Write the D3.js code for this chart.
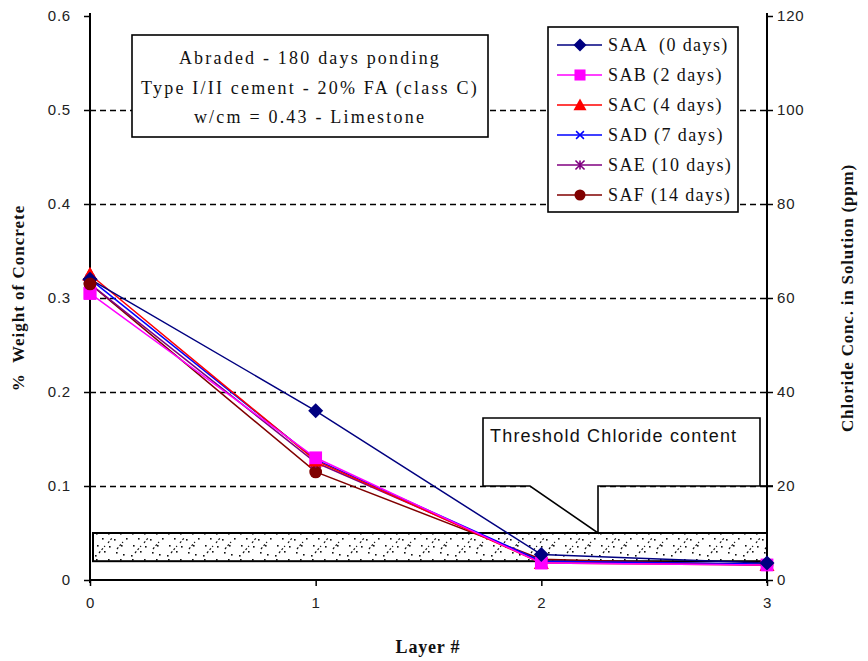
<!DOCTYPE html>
<html><head><meta charset="utf-8">
<script src="https://cdn.jsdelivr.net/npm/d3@7/dist/d3.min.js"></script>
<style>body{margin:0;background:#fff}svg{display:block}</style>
</head><body>
<script>
const layers = [0, 1, 2, 3];
const seriesNames = ["SAA  (0 days)", "SAB (2 days)", "SAC (4 days)", "SAD (7 days)", "SAE (10 days)", "SAF (14 days)"];
const SAA = [0.32, 0.18, 0.027, 0.018];
const SAB = [0.305, 0.13, 0.018, 0.016];
const SAC = [0.325, 0.127, 0.018, 0.016];
const SAD = [0.32, 0.128, 0.02, 0.017];
const SAE = [0.315, 0.125, 0.02, 0.016];
const SAF = [0.315, 0.115, 0.022, 0.016];
const leftTicks = [0, 0.1, 0.2, 0.3, 0.4, 0.5, 0.6];
const rightTicks = [0, 20, 40, 60, 80, 100, 120];
const gridValues = [0.1, 0.2, 0.3, 0.4, 0.5];
const thresholdBand = [0.02, 0.05];
const infoLines = ["Abraded - 180 days ponding", "Type I/II cement - 20% FA (class C)", "w/cm = 0.43 - Limestone"];

const colors = ["#000080", "#FF00FF", "#FF0000", "#0000FF", "#800080", "#800000"];
const markers = ["diamond", "square", "triangle", "x", "star", "circle"];
const allSeries = [SAA, SAB, SAC, SAD, SAE, SAF];

const W = 868, H = 661;
const m = {l: 90, r: 767, t: 16, b: 580};
const svg = d3.select("body").append("svg").attr("width", W).attr("height", H);

const x = d3.scaleLinear().domain([0, 3]).range([m.l, m.r]);
const y = d3.scaleLinear().domain([0, 0.6]).range([m.b, m.t]);
const y2 = d3.scaleLinear().domain([0, 120]).range([m.b, m.t]);

const serif = "Liberation Serif, Times New Roman, serif";
const sans = "Liberation Sans, Arial, sans-serif";

// pattern for hatched band
const defs = svg.append("defs");
const pat = defs.append("pattern").attr("id", "hatch").attr("patternUnits", "userSpaceOnUse")
  .attr("width", 36).attr("height", 26).attr("x", 93).attr("y", y(thresholdBand[1]));
pat.append("rect").attr("width", 36).attr("height", 26).attr("fill", "#fff");
[[3,0],[15,0],[27,0],[9,5],[21,6],[33,5],[4,12],[16,13],[28,12],[11,18],[23,19],[2,22],[30,21]].forEach(p =>
  pat.append("rect").attr("x", p[0]).attr("y", p[1]).attr("width", 1.6).attr("height", 1.6).attr("fill", "#111"));
[[6,20,12,13],[24,16,30,9],[15,10,19,5]].forEach(s =>
  pat.append("line").attr("x1", s[0]).attr("y1", s[1]).attr("x2", s[2]).attr("y2", s[3]).attr("stroke", "#111").attr("stroke-width", 1.2).attr("stroke-dasharray", "2,2"));

// gridlines
svg.append("g").selectAll("line").data(gridValues).join("line")
  .attr("x1", m.l).attr("x2", m.r).attr("y1", d => Math.round(y(d)) + 0.5).attr("y2", d => Math.round(y(d)) + 0.5)
  .attr("stroke", "#000").attr("stroke-width", 1.6).attr("stroke-dasharray", "6,4");

// threshold band
svg.append("rect").attr("x", x(0) + 3).attr("y", y(thresholdBand[1]))
  .attr("width", x(3) - x(0) - 3).attr("height", y(thresholdBand[0]) - y(thresholdBand[1]))
  .attr("fill", "url(#hatch)").attr("stroke", "#000").attr("stroke-width", 2);

// callout
const cx0 = 483, cx1 = 760, cy0 = 418, cy1 = 486;
svg.append("path")
  .attr("d", `M${cx0},${cy0}H${cx1}V${cy1}H598V${y(thresholdBand[1])}L530,${cy1}H${cx0}Z`)
  .attr("fill", "#fff").attr("stroke", "#000").attr("stroke-width", 1.6);
svg.append("line").attr("x1", cx1).attr("x2", 773).attr("y1", cy1).attr("y2", cy1).attr("stroke", "#000").attr("stroke-width", 1.6);
svg.append("text").attr("x", 490).attr("y", 442).text("Threshold Chloride content")
  .attr("font-family", sans).attr("font-size", 18).attr("letter-spacing", 1.2).attr("fill", "#111");

// axes
const axL = svg.append("g").attr("transform", `translate(${m.l},0)`)
  .call(d3.axisLeft(y).tickValues(leftTicks).tickSize(6).tickFormat(d3.format("")));
const axR = svg.append("g").attr("transform", `translate(${m.r},0)`)
  .call(d3.axisRight(y2).tickValues(rightTicks).tickSize(6).tickFormat(d3.format("")));
const axB = svg.append("g").attr("transform", `translate(0,${m.b})`)
  .call(d3.axisBottom(x).tickValues(layers).tickSize(6).tickFormat(d3.format("d")));
[axL, axR, axB].forEach(a => {
  a.select(".domain").attr("stroke", "#000").attr("stroke-width", 2);
  a.selectAll(".tick line").attr("stroke", "#000").attr("stroke-width", 1.5);
  a.selectAll("text").attr("font-family", sans).attr("font-size", 15).attr("fill", "#222").attr("letter-spacing", 0.8);
});
axL.selectAll("text").attr("x", -19);
axR.selectAll("text").attr("x", 10);
axB.selectAll("text").attr("y", 17);
axL.select(".domain").attr("d", `M0,${m.t - 3}V${m.b + 3}`);
axR.select(".domain").attr("d", `M0,${m.t - 3}V${m.b + 3}`);
axB.select(".domain").attr("d", `M${m.l},0H${m.r}`);

// series lines
const line = d3.line().x((d, i) => x(layers[i])).y(d => y(d));
const order = [5, 4, 3, 2, 1, 0];
order.forEach(k => {
  svg.append("path").datum(allSeries[k]).attr("d", line)
    .attr("fill", "none").attr("stroke", colors[k]).attr("stroke-width", 1.5);
});

function drawMarker(g, type, color, cx, cy, s) {
  if (type === "diamond") {
    g.append("path").attr("d", `M${cx},${cy - s}L${cx + s},${cy}L${cx},${cy + s}L${cx - s},${cy}Z`).attr("fill", color);
  } else if (type === "square") {
    g.append("rect").attr("x", cx - s * 0.85).attr("y", cy - s * 0.85).attr("width", s * 1.7).attr("height", s * 1.7).attr("fill", color);
  } else if (type === "triangle") {
    g.append("path").attr("d", `M${cx},${cy - s}L${cx + s},${cy + s * 0.8}L${cx - s},${cy + s * 0.8}Z`).attr("fill", color);
  } else if (type === "x") {
    const r = s * 0.6;
    g.append("path").attr("d", `M${cx - r},${cy - r}L${cx + r},${cy + r}M${cx - r},${cy + r}L${cx + r},${cy - r}`)
      .attr("stroke", color).attr("stroke-width", 1.5);
  } else if (type === "star") {
    const r = s * 0.7;
    g.append("path").attr("d", `M${cx - r},${cy - r}L${cx + r},${cy + r}M${cx - r},${cy + r}L${cx + r},${cy - r}M${cx},${cy - r}V${cy + r}`)
      .attr("stroke", color).attr("stroke-width", 1.6);
  } else {
    g.append("circle").attr("cx", cx).attr("cy", cy).attr("r", s * 0.85).attr("fill", color);
  }
}

const mg = svg.append("g");
order.forEach(k => {
  allSeries[k].forEach((v, i) => drawMarker(mg, markers[k], colors[k], x(layers[i]), y(v), 7.5));
});
[1, 2, 0, 5].forEach(k => drawMarker(mg, markers[k], colors[k], x(layers[0]), y(allSeries[k][0]), 7.5));

// info box
svg.append("rect").attr("x", 132).attr("y", 35).attr("width", 356).attr("height", 102)
  .attr("fill", "#fff").attr("stroke", "#000").attr("stroke-width", 1.6);
svg.append("g").selectAll("text").data(infoLines).join("text")
  .attr("x", 310).attr("y", (d, i) => 64 + i * 29.5).attr("text-anchor", "middle")
  .attr("font-family", serif).attr("font-size", 18).attr("letter-spacing", 2.2).attr("fill", "#111")
  .text(d => d);

// legend
const lg = svg.append("g");
lg.append("rect").attr("x", 548).attr("y", 27).attr("width", 190).attr("height", 185)
  .attr("fill", "#fff").attr("stroke", "#000").attr("stroke-width", 1.6);
seriesNames.forEach((name, k) => {
  const yy = 45 + k * 30;
  lg.append("line").attr("x1", 557).attr("x2", 602).attr("y1", yy).attr("y2", yy)
    .attr("stroke", colors[k]).attr("stroke-width", 1.5);
  drawMarker(lg, markers[k], colors[k], 580, yy, 6.5);
  lg.append("text").attr("x", 608).attr("y", yy + 6).attr("xml:space", "preserve")
    .style("white-space", "pre")
    .attr("font-family", serif).attr("font-size", 18).attr("letter-spacing", 1.4).attr("fill", "#111")
    .text(name);
});

// axis titles
svg.append("text").attr("transform", `translate(24,${(m.t + m.b) / 2}) rotate(-90)`)
  .attr("text-anchor", "middle").attr("font-family", serif).attr("letter-spacing", 1)
  .attr("font-weight", "bold").attr("font-size", 17).attr("fill", "#111").attr("xml:space", "preserve").style("white-space", "pre")
  .text("%  Weight of Concrete");
svg.append("text").attr("transform", `translate(853,${(m.t + m.b) / 2}) rotate(-90)`)
  .attr("text-anchor", "middle").attr("font-family", serif).attr("letter-spacing", 0.8)
  .attr("font-weight", "bold").attr("font-size", 17).attr("fill", "#111").text("Chloride Conc. in Solution (ppm)");
svg.append("text").attr("x", 428).attr("y", 653).attr("text-anchor", "middle")
  .attr("font-family", serif).attr("letter-spacing", 0.8)
  .attr("font-weight", "bold").attr("font-size", 18).attr("fill", "#111").text("Layer #");
</script>
</body></html>
